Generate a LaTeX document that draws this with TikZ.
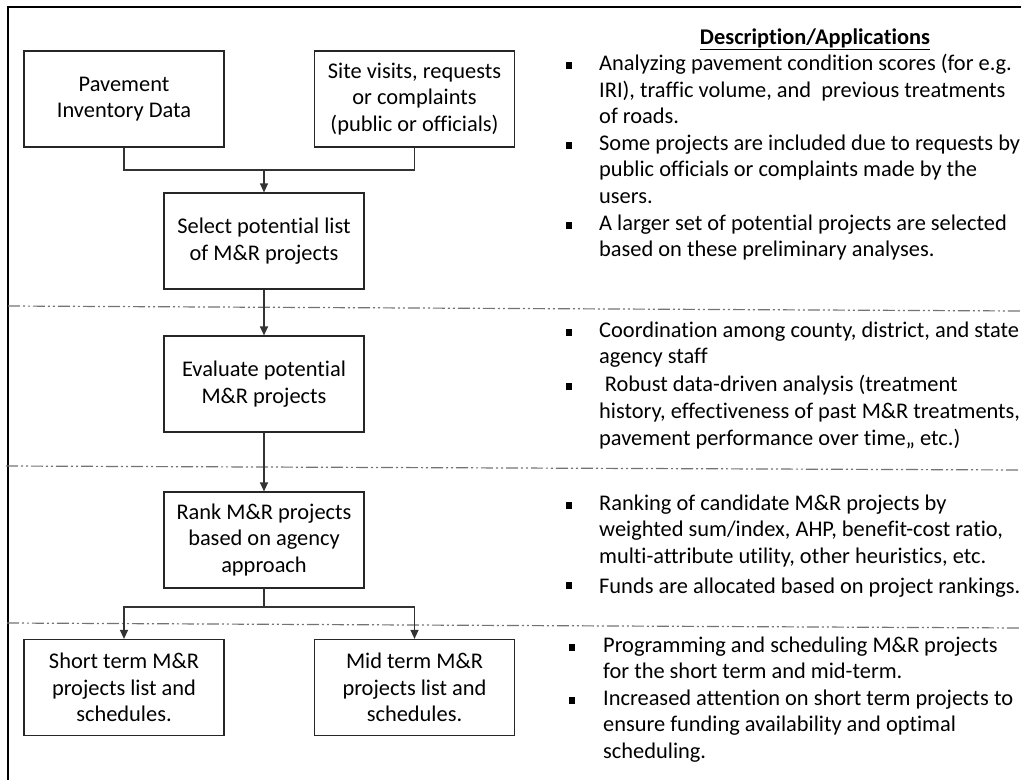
\documentclass[tikz,border=0pt]{standalone}
\usepackage{fontspec}
\setmainfont{Carlito}[RawFeature={-liga;-clig;-calt;-dlig}]
\usepackage{xcolor}
\usepackage{tikz}
\usetikzlibrary{positioning, arrows.meta, calc}

\begin{document}
\begin{tikzpicture}[
    x=1pt, y=-1pt,
    font=\fontsize{22.4pt}{26.7pt}\selectfont,
    procbox/.style={draw=black!85, line width=1.2pt, rectangle, minimum width=200pt, minimum height=96pt, align=center, inner sep=2pt, fill=white},
    conn/.style={draw=black!80, line width=1.2pt},
    arrowline/.style={conn, -{Triangle[length=9pt, width=8pt]}},
    divider/.style={draw=black!55, line width=1.2pt, dash pattern=on 12pt off 3pt on 2pt off 3pt on 2pt off 3pt},
    desc/.style={anchor=north west, inner sep=0pt, align=left, execute at begin node=\strut},
    bulletmark/.style={fill=black, draw=none, minimum size=6.8pt, inner sep=0pt, rectangle}
]
    \useasboundingbox (0,0) rectangle (1021,780);

    % ================= FRAME =================
    \draw[line width=1.2pt] (8,780) |- (1021,7);

    % ================= DIVIDERS =================
    \draw[divider] (8,306) -- (1021,311);
    \draw[divider] (6,466) -- (1021,470);
    \draw[divider] (7,623) -- (1021,628);

    % ================= PROCESS BOXES =================
    \node[procbox] (pavement) at (124, 99) {Pavement\\Inventory Data};
    \node[procbox] (site) at (414.5, 99) {Site visits, requests\\or complaints\\(public or officials)};
    \node[procbox] (select) at (264, 241) {Select potential list\\of M\&R projects};
    \node[procbox] (evaluate) at (264, 384) {Evaluate potential\\M\&R projects};
    \node[procbox] (rank) at (264, 540) {Rank M\&R projects\\based on agency\\approach};
    \node[procbox] (shortterm) at (124, 687.5) {Short term M\&R\\projects list and\\schedules.};
    \node[procbox] (midterm) at (414.5, 687.5) {Mid term M\&R\\projects list and\\schedules.};

    % ================= CONNECTIONS =================
    \coordinate (join) at (264, 170);
    \coordinate (split) at (264, 607);

    % inputs merge into the selection step
    \draw[conn] (pavement.south) |- (join) -| (site.south);
    \draw[arrowline] (join) -- (select.north);

    % main chain
    \draw[arrowline] (select) -- (evaluate);
    \draw[arrowline] (evaluate) -- (rank);

    % ranking splits into the two lists
    \draw[conn] (rank.south) -- (split);
    \draw[arrowline] (split) -| (shortterm.north);
    \draw[arrowline] (split) -| (midterm.north);

    % ================= DESCRIPTIONS =================
    \node[anchor=base, inner sep=0pt] (heading) at (815, 44) {\textbf{\underline{Description/Applications}}};

    % selection
    \node[bulletmark] (m1a) at (569, 65.2) {};
    \node[desc] (d1a) at (599, 54) {Analyzing pavement condition scores (for e.g.\\IRI), traffic volume, and\ \ previous treatments\\of roads.};
    \node[bulletmark] (m1b) at (569, 145.5) {};
    \node[desc] (d1b) at (599, 134.3) {Some projects are included due to requests by\\public officials or complaints made by the\\users.};
    \node[bulletmark] (m1c) at (569, 225.5) {};
    \node[desc] (d1c) at (599, 214.3) {A larger set of potential projects are selected\\based on these preliminary analyses.};

    % evaluation
    \node[bulletmark] (m2a) at (569, 332.5) {};
    \node[desc] (d2a) at (599, 321.3) {Coordination among county, district, and state\\agency staff};
    \node[bulletmark] (m2b) at (569, 386.5) {};
    \node[desc] (d2b) at (599, 375.3) {\hspace*{0.25em}Robust data-driven analysis (treatment\\history, effectiveness of past M\&R treatments,\\pavement performance over time,, etc.)};

    % ranking
    \node[bulletmark] (m3a) at (569, 505.5) {};
    \node[desc] (d3a) at (599, 494.3) {Ranking of candidate M\&R projects by\\weighted sum/index, AHP, benefit-cost ratio,\\multi-attribute utility, other heuristics, etc.};
    \node[bulletmark] (m3b) at (569, 585.5) {};
    \node[desc] (d3b) at (599, 574.3) {Funds are allocated based on project rankings.};

    % programming
    \node[bulletmark] (m4a) at (572, 647.5) {};
    \node[desc] (d4a) at (603, 636.3) {Programming and scheduling M\&R projects\\for the short term and mid-term.};
    \node[bulletmark] (m4b) at (572, 700.5) {};
    \node[desc] (d4b) at (603, 689.3) {Increased attention on short term projects to\\ensure funding availability and optimal\\scheduling.};

\end{tikzpicture}
\end{document}
